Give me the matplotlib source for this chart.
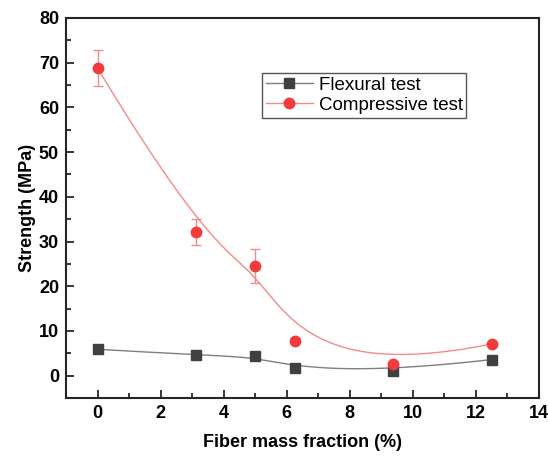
import numpy as np
import matplotlib
matplotlib.use("Agg")
import matplotlib.pyplot as plt
from matplotlib.ticker import MultipleLocator

# =============================================================
# Data
# =============================================================
fiber_frac = [0.0, 3.125, 5.0, 6.25, 9.375, 12.5]

flexural = [5.9, 4.6, 4.4, 1.6, 1.1, 3.6]

compressive     = [68.8, 32.2, 24.6, 7.8, 2.6, 7.1]
compressive_err = [4.0, 2.9, 3.8, 0.3, 0.3, 0.3]


# =============================================================
# Clamped cubic B-spline using the data points as control points
# (same kind of connecting line Origin draws)
# =============================================================
def bspline_curve(xs, ys, n=300, k=3):
    P = np.column_stack([xs, ys]).astype(float)
    m = len(P)
    inner = np.linspace(0, 1, m - k + 1)
    knots = np.concatenate([[0] * k, inner, [1] * k])
    t = np.linspace(0, 1, n)
    t[-1] = 1 - 1e-10

    def basis(i, p, u):
        if p == 0:
            return ((knots[i] <= u) & (u < knots[i + 1])).astype(float)
        out = np.zeros_like(u)
        d1 = knots[i + p] - knots[i]
        d2 = knots[i + p + 1] - knots[i + 1]
        if d1 > 0:
            out += (u - knots[i]) / d1 * basis(i, p - 1, u)
        if d2 > 0:
            out += (knots[i + p + 1] - u) / d2 * basis(i + 1, p - 1, u)
        return out

    B = np.column_stack([basis(i, k, t) for i in range(m)])
    C = B @ P
    return C[:, 0], C[:, 1]


plt.rcParams["font.family"] = ["Liberation Sans", "DejaVu Sans"]

fig = plt.figure(figsize=(5.48, 4.62), dpi=100)
ax = fig.add_axes([66 / 548, 1 - 398 / 462, 473 / 548, 380 / 462])

# curves
fx, fy = bspline_curve(fiber_frac, flexural)
cx, cy = bspline_curve(fiber_frac, compressive)
ax.plot(fx, fy, color="#7f7f7f", lw=1.0, zorder=2)
ax.plot(cx, cy, color="#f48a8a", lw=1.0, zorder=2)

# points
ax.errorbar(fiber_frac, compressive, yerr=compressive_err, fmt="none",
            ecolor="#f48a8a", elinewidth=1.0, capsize=3.5, capthick=1.0, zorder=3)
ax.plot(fiber_frac, flexural, "s", color="#404040", ms=7.5, mec="#404040", zorder=4)
ax.plot(fiber_frac, compressive, "o", color="#f23c3c", ms=7.5, mec="#f23c3c", zorder=4)

# legend handles (line + marker)
h1, = ax.plot([], [], "-s", color="#7f7f7f", mfc="#404040", mec="#404040", ms=7, lw=1.0)
h2, = ax.plot([], [], "-o", color="#f48a8a", mfc="#f23c3c", mec="#f23c3c", ms=7.5, lw=1.0)
leg = ax.legend([h1, h2], ["Flexural test", "Compressive test"],
                loc="upper left", bbox_to_anchor=(0.415, 0.855),
                fontsize=13.5, frameon=True, fancybox=False, framealpha=1,
                edgecolor="#555555", borderpad=0.2, labelspacing=0.15,
                handlelength=2.5, handletextpad=0.3, borderaxespad=0)
leg.get_frame().set_linewidth(1.0)

# axes
ax.set_xlim(-1, 14)
ax.set_ylim(-5, 80)
ax.xaxis.set_major_locator(MultipleLocator(2))
ax.xaxis.set_minor_locator(MultipleLocator(1))
ax.yaxis.set_major_locator(MultipleLocator(10))
ax.yaxis.set_minor_locator(MultipleLocator(5))
ax.tick_params(which="both", direction="in", top=False, right=False,
               width=1.3, color="#262626")
ax.tick_params(which="major", length=6, labelsize=13, pad=5)
ax.tick_params(which="minor", length=3.5)
for lbl in ax.get_xticklabels() + ax.get_yticklabels():
    lbl.set_fontweight("bold")
for s in ax.spines.values():
    s.set_linewidth(1.5)
    s.set_color("#262626")

ax.set_xlabel("Fiber mass fraction (%)", fontsize=13, fontweight="bold", labelpad=9)
ax.set_ylabel("Strength (MPa)", fontsize=13, fontweight="bold", labelpad=2)

fig.savefig("out.png", dpi=100)
